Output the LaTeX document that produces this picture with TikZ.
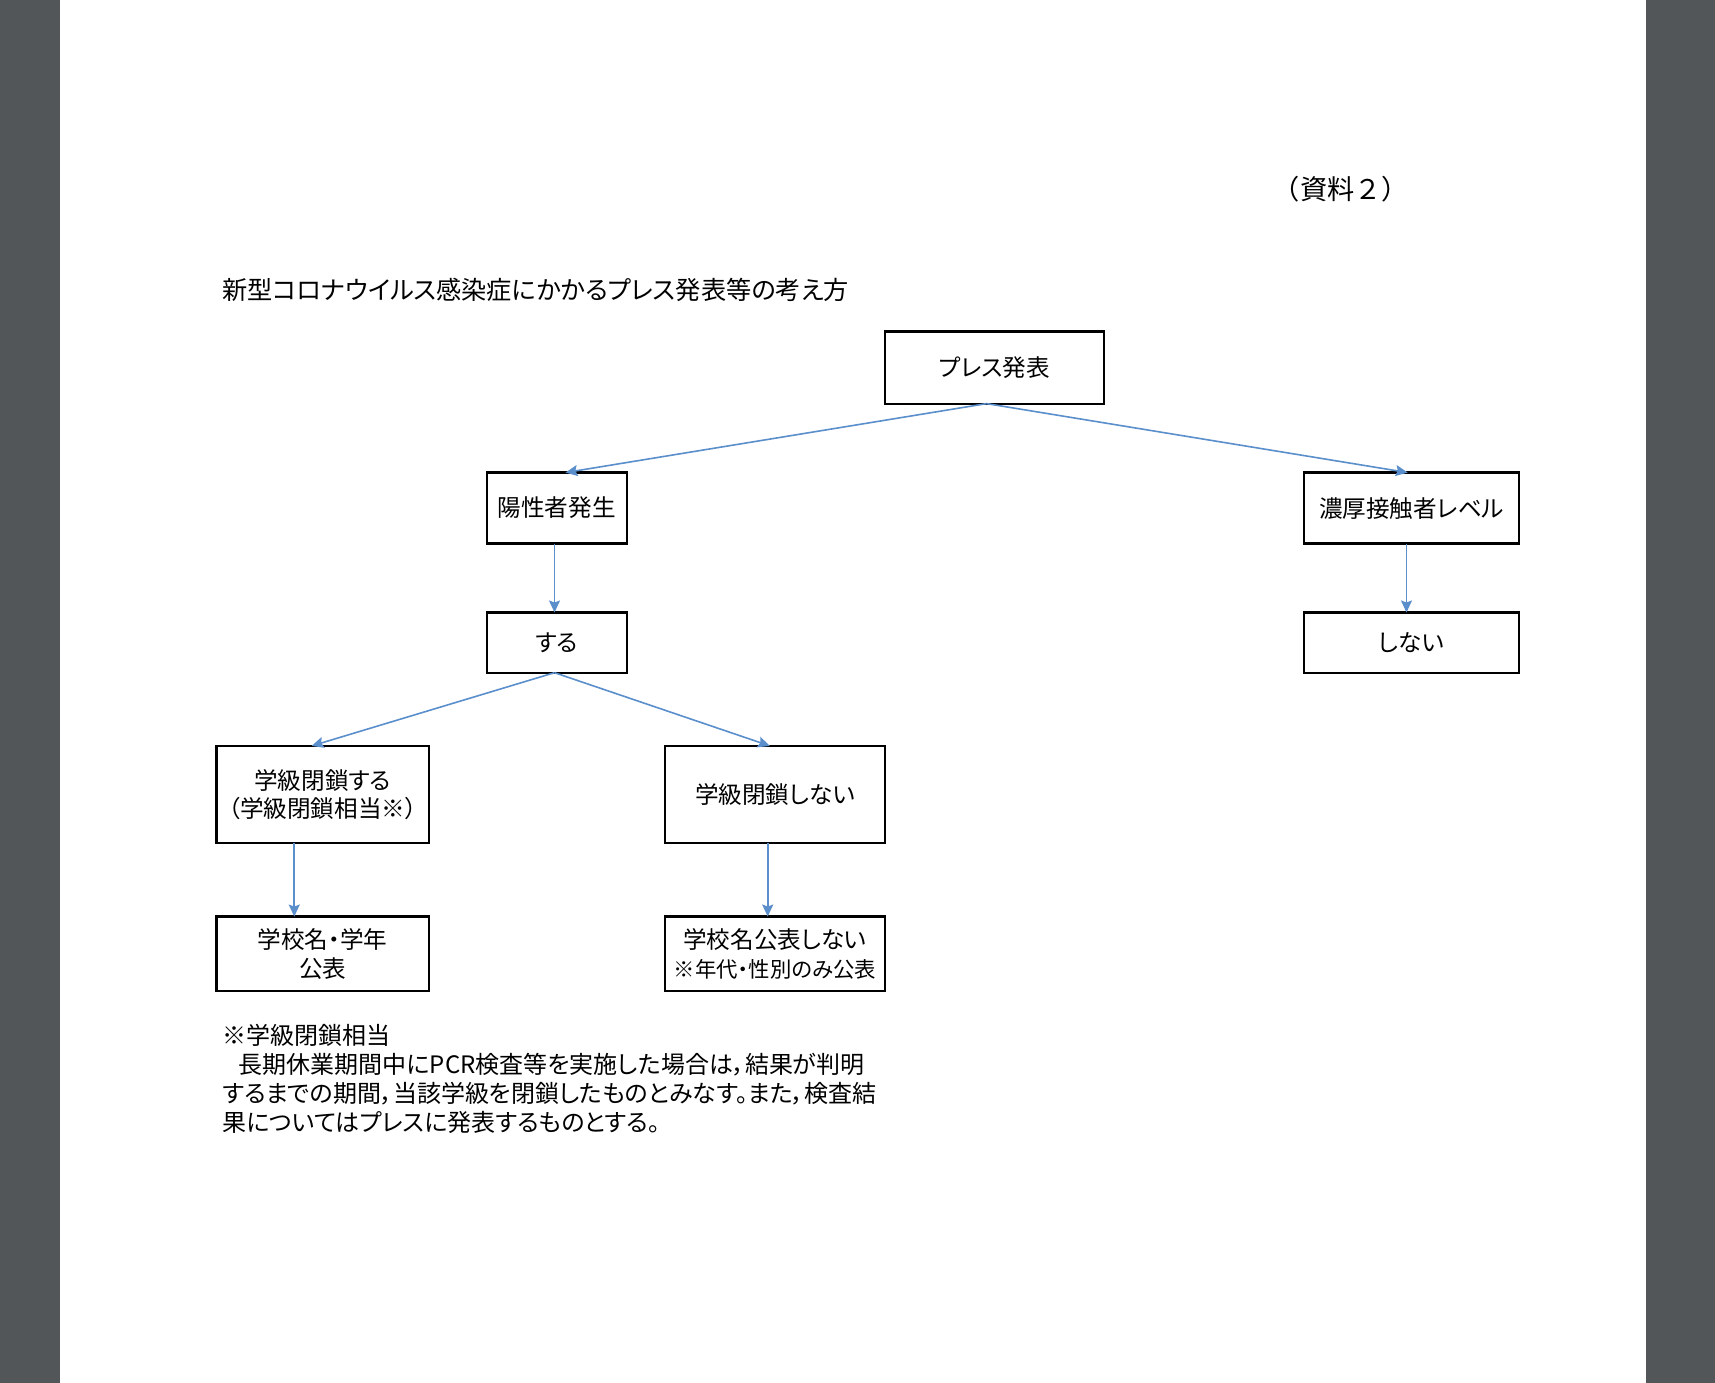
\documentclass[tikz,border=0pt]{standalone}
\usepackage{fontspec}
\setmainfont{Noto Sans CJK JP}[RawFeature=+palt]
\newfontfamily\fwfont{Noto Sans CJK JP}
\usetikzlibrary{arrows.meta}
\definecolor{pagegray}{RGB}{82,86,89}
\definecolor{arrowblue}{RGB}{91,143,204}
\tikzset{
  box/.style={draw=black, line width=1.1pt, inner sep=0pt, outer sep=0pt, align=center,
    font=\fontsize{11.8}{14.4}\selectfont},
  conn/.style={draw=arrowblue, line width=0.8pt, -{Stealth[length=6pt,width=5.5pt,inset=1pt]}},
  txt/.style={inner sep=0pt, anchor=west, font=\fontsize{12}{14.4}\selectfont}
}
\begin{document}
\begin{tikzpicture}[x=0.546875pt, y=-0.546875pt]
\fill[pagegray] (0,0) rectangle (1568,1264);
\fill[white] (55,0) rectangle (1505,1264);
\useasboundingbox (0,0) rectangle (1568,1264);

\node[inner sep=0pt, font=\fwfont\fontsize{13.6}{15}\selectfont] (ref) at (1226,173) {（資料２）};
\node[txt, font=\fontsize{12.6}{14.4}\selectfont] (title) at (203,265) {新型コロナウイルス感染症にかかるプレス発表等の考え方};

\node[box, minimum width=109.4pt, minimum height=36.1pt] (press) at (909,336) {プレス発表};
\node[box, minimum width=70pt, minimum height=35.5pt] (yosei) at (509,464.5) {陽性者発生};
\node[box, minimum width=107.7pt, minimum height=35.5pt] (noko) at (1290.5,464.5) {濃厚接触者レベル};
\node[box, minimum width=70pt, minimum height=30.1pt] (suru) at (509,587.5) {する};
\node[box, minimum width=107.7pt, minimum height=30.1pt] (shinai) at (1290.5,587.5) {しない};
\node[box, minimum width=106.1pt, minimum height=48.7pt] (heisa) at (295,726.5) {学級閉鎖する\\（学級閉鎖相当※）};
\node[box, minimum width=109.9pt, minimum height=48.7pt] (noheisa) at (708.5,726.5) {学級閉鎖しない};
\node[box, minimum width=106.1pt, minimum height=37.2pt] (kohyo) at (295,872) {学校名・学年\\公表};
\node[box, minimum width=109.9pt, minimum height=37.2pt] (nokohyo) at (708.5,872) {学校名公表しない\\{\fontsize{10.7}{13}\selectfont ※年代・性別のみ公表}};

\draw[conn] ([xshift=-3.8pt]press.south) -- ([xshift=4.4pt]yosei.north);
\draw[conn] ([xshift=-3.8pt]press.south) -- ([xshift=-1.9pt]noko.north);
\draw[conn] ([xshift=-1.1pt]yosei.south) -- ([xshift=-1.1pt]suru.north);
\draw[conn] ([xshift=-2.5pt]noko.south) -- ([xshift=-2.5pt]shinai.north);
\draw[conn] ([xshift=-1.1pt]suru.south) -- ([xshift=-5.5pt]heisa.north);
\draw[conn] ([xshift=-1.1pt]suru.south) -- ([xshift=-2.5pt]noheisa.north);
\draw[conn] ([xshift=-14.2pt]heisa.south) -- ([xshift=-14.2pt]kohyo.north);
\draw[conn] ([xshift=-3.6pt]noheisa.south) -- ([xshift=-3.6pt]nokohyo.north);

\node[txt] (n1) at (203,947) {※学級閉鎖相当};
\node[txt] (n2) at (218,973) {長期休業期間中にPCR検査等を実施した場合は，結果が判明};
\node[txt] (n3) at (203,1000) {するまでの期間，当該学級を閉鎖したものとみなす。また，検査結};
\node[txt] (n4) at (203,1026) {果についてはプレスに発表するものとする。};
\end{tikzpicture}
\end{document}
